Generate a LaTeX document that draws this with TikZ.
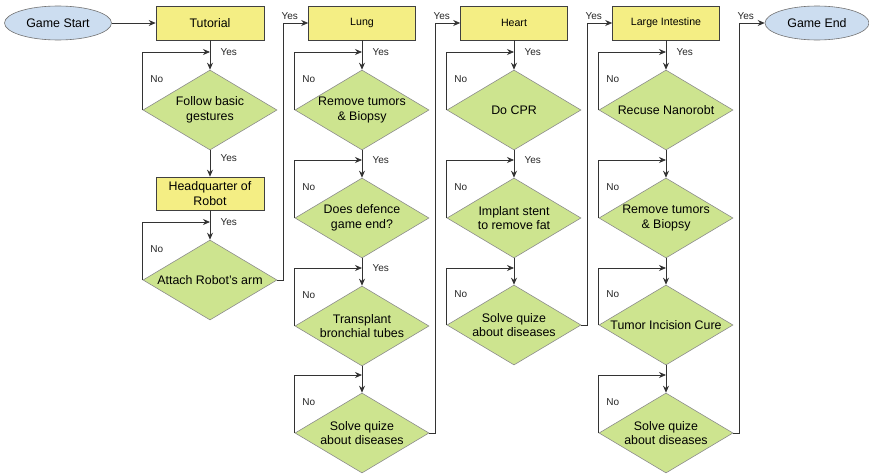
\documentclass[tikz,border=0pt]{standalone}
\usepackage{fontspec}
\setmainfont{Liberation Sans}
\usepackage{xcolor}
\definecolor{stageyellow}{HTML}{F4EE84}
\definecolor{checkgreen}{HTML}{CDE48F}
\definecolor{termblue}{HTML}{CCDDF0}
\usetikzlibrary{arrows.meta,positioning,shapes.geometric,calc}

\begin{document}
\begin{tikzpicture}[
  x=1pt, y=-1pt,
  font=\fontsize{12.4}{14.5}\selectfont,
  term/.style={ellipse, draw=black!55, line width=0.6pt, fill=termblue,
               minimum width=107pt, minimum height=34pt, inner sep=0pt},
  stage/.style={rectangle, draw=black!75, line width=0.6pt, fill=stageyellow,
                minimum width=108pt, minimum height=34pt, inner sep=1pt, align=center},
  organ/.style={stage, minimum width=107pt, font=\fontsize{10.6}{12.5}\selectfont},
  check/.style={diamond, aspect=1.675, draw=black!45, line width=0.6pt, fill=checkgreen,
                minimum width=134pt, minimum height=80pt, inner sep=-6pt, align=center},
  flow/.style={-{Stealth[length=7pt,width=6pt]}, line width=0.8pt, black!80},
  lbl/.style={font=\fontsize{10}{12}\selectfont, black!85},
]
\useasboundingbox (0,0) rectangle (869,474);

% ---------- start and tutorial column
\node[term] (start) at (58,23) {Game Start};
\node[stage] (tut) at (210,23) {Tutorial};
\node[check] (tut1) at (210,110) {Follow basic\\gestures};
\node[stage, minimum height=33pt] (hq) at (210,193.5) {Headquarter of\\Robot};
\node[check] (tut2) at (210,280) {Attach Robot's arm};

% ---------- lung column
\node[organ] (lung) at (362,23) {Lung};
\node[check] (lung1) at (362,110) {Remove tumors\\\& Biopsy};
\node[check] (lung2) at (362,218) {Does defence\\game end?};
\node[check] (lung3) at (362,326) {Transplant\\bronchial tubes};
\node[check] (lung4) at (362,433) {Solve quize\\about diseases};

% ---------- heart column
\node[organ] (heart) at (514,23) {Heart};
\node[check] (heart1) at (514,110) {Do CPR};
\node[check] (heart2) at (514,218) {Implant stent\\to remove fat};
\node[check] (heart3) at (514,325) {Solve quize\\about diseases};

% ---------- large intestine column
\node[organ] (colon) at (666,23) {Large Intestine};
\node[check] (colon1) at (666,110) {Recuse Nanorobt};
\node[check] (colon2) at (666,218) {Remove tumors\\\& Biopsy};
\node[check] (colon3) at (666,325) {Tumor Incision Cure};
\node[check] (colon4) at (666,433) {Solve quize\\about diseases};

\node[term, minimum width=104pt] (end) at (817,23) {Game End};

% ---------- straight flow
\draw[flow] (start.east) -- (tut.west);
\draw[flow] (tut1.south) -- (hq.north);
\node[lbl, anchor=west] at ($(tut1.south)+(7,8)$) {Yes};

% ---------- retry loops on every check
\foreach \p/\d/\y/\t in {tut/tut1/52/Yes, hq/tut2/222/Yes,
    lung/lung1/52/Yes, lung1/lung2/160/Yes, lung2/lung3/268/Yes, lung3/lung4/375/{},
    heart/heart1/52/Yes, heart1/heart2/160/Yes, heart2/heart3/268/{},
    colon/colon1/52/Yes, colon1/colon2/160/{}, colon2/colon3/268/{}, colon3/colon4/375/{}} {
  \coordinate (j) at (\d.north |- 0,\y);
  \draw[flow] (\p.south) -- (\d.north);
  \draw[flow] (\d.west) |- (j);
  \ifx\t\empty\else
    \node[lbl, anchor=west] at ($(j)+(7,0)$) {\t};
  \fi
  \node[lbl] at ($(\d.west)+(14,-31)$) {No};
}

% ---------- exits up to the next stage
\foreach \d/\n in {tut2/lung, lung4/heart, heart3/colon, colon4/end} {
  \draw[flow] (\d.east) -- ++(6,0) |- (\n.west);
  \node[lbl, inner sep=1pt, anchor=south west] at ($(\d.east |- \n.west)+(3,-2)$) {Yes};
}
\end{tikzpicture}
\end{document}
